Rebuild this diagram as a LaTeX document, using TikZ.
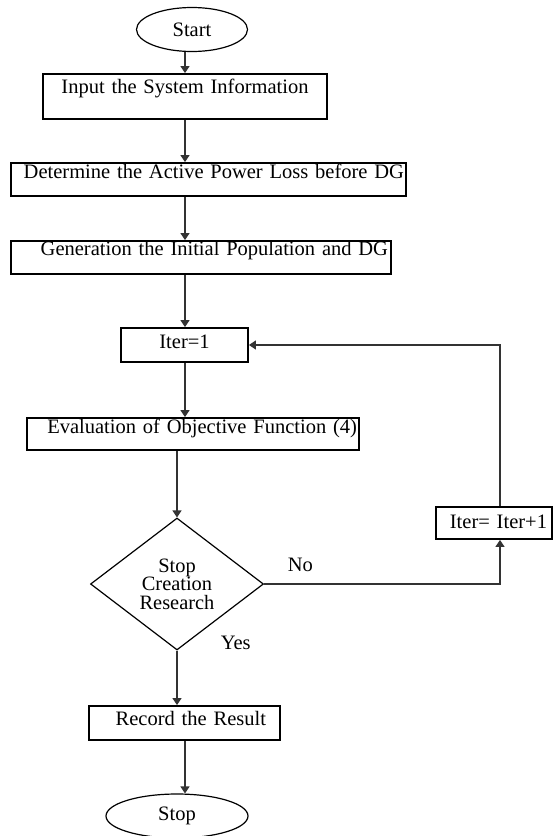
\documentclass[tikz,border=0pt]{standalone}
\usepackage{fontspec}
\setmainfont{Liberation Serif}
\usetikzlibrary{arrows.meta,shapes.geometric}
\tikzset{
  term/.style    = {draw, ellipse, line width=0.6pt, inner sep=0pt},
  procbox/.style = {draw, rectangle, line width=0.9pt, inner ysep=0pt},
  cond/.style    = {draw, diamond, line width=0.6pt, inner sep=0pt, align=center,
                    font=\fontsize{10.2}{9.3}\selectfont},
  flow/.style    = {-{Triangle[length=3.5pt,width=4.5pt]}, line width=0.6pt, draw=black!80},
}

\begin{document}
\begin{tikzpicture}[x=0.5pt,y=-0.5pt,font=\fontsize{10.25}{12.3}\selectfont]
  \useasboundingbox[fill=white] (0,0) rectangle (553,836);
  \coordinate (spine) at (185,0);

  \node[term, minimum width=55.5pt, minimum height=22pt] (start) at (192,29.5) {Start};
  \node[procbox, inner xsep=0pt, text width=142pt, align=center,
        text height=9.5pt, text depth=13pt] (in) at (185,96.5) {Input the System Information};
  \node[procbox, inner xsep=1pt, text width=195.5pt, align=right,
        text height=7.5pt, text depth=9pt] (loss) at (208.5,179.5) {Determine the Active Power Loss before DG};
  \node[procbox, inner xsep=1.5pt, text width=187pt, align=right,
        text height=7pt, text depth=9.5pt] (pop) at (201,257.5) {Generation the Initial Population and DG};
  \node[procbox, inner xsep=0pt, text width=63.5pt, align=center,
        text height=10pt, text depth=7pt] (iter) at (184.5,345) {Iter=1};
  \node[procbox, inner xsep=1pt, text width=164pt, align=right,
        text height=7.5pt, text depth=8.5pt] (eval) at (193,434) {Evaluation of Objective Function (4)};
  \node[cond, minimum width=86.5pt, minimum height=66pt] (dec) at (177,584) {Stop\\Creation\\Research};
  \node[procbox, inner xsep=2.5pt, text width=53pt, align=right,
        text height=10.5pt, text depth=5.5pt] (inc) at (494,523) {Iter= Iter+1};
  \node[procbox, inner xsep=7pt, text width=81.5pt, align=right,
        text height=9.5pt, text depth=7.5pt] (rec) at (184.5,723) {Record the Result};
  \node[term, minimum width=71pt, minimum height=22pt] (stop) at (177,816) {Stop};

  \draw[flow] (start.south -| spine) -- (in.north);
  \draw[flow] (in.south) -- (in.south |- loss.north);
  \draw[flow] (loss.south -| spine) -- (pop.north -| spine);
  \draw[flow] (pop.south -| spine) -- (iter.north -| spine);
  \draw[flow] (iter.south -| spine) -- (eval.north -| spine);
  \draw[flow] (eval.south -| dec.north) -- (dec.north);
  \draw[flow] (dec.east) -| node[pos=0.077, above, yshift=2.5pt] {No} ([xshift=3pt]inc.south);
  \draw[flow] ([xshift=3pt]inc.north) |- (iter.east);
  \draw[flow] (dec.south) -- node[pos=0, anchor=west, xshift=18.25pt, yshift=4pt] {Yes} (dec.south |- rec.north);
  \draw[flow] (rec.south -| spine) -- (stop.north -| spine);
\end{tikzpicture}
\end{document}
